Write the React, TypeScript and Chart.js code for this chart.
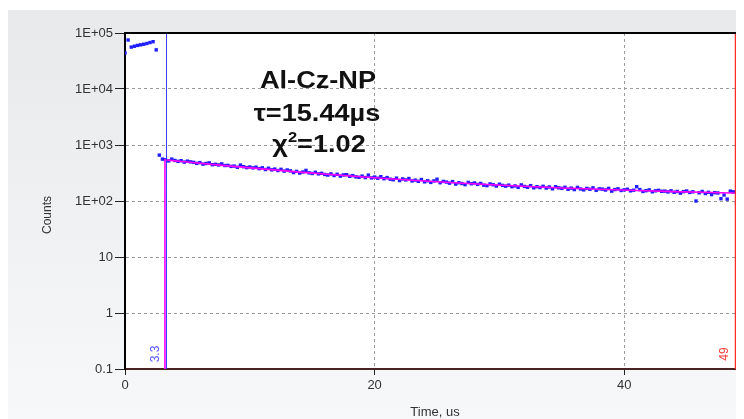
import React, { useEffect, useRef } from 'react';
import { Chart, registerables } from 'chart.js';

Chart.register(...registerables);

// ---- data ----
const TIME_STEP = 0.25; // µs between channels, first channel at t = 0
// counts per channel: pre-pulse (t = 0 .. 3.0), then decay from t = 3.25 onward
const counts = [
  44000, 75000, 56000, 58000, 60000, 61500, 63000, 65000, 67500, 70000, 50000, 660, 560,
  545, 520, 560, 530, 510, 525, 495, 515, 500, 490,
  470, 485, 455, 468, 480, 445, 452, 440, 460, 430,
  432, 415, 420, 400, 438, 410, 395, 405, 390, 402,
  378, 392, 365, 385, 360, 372, 350, 368, 342, 358,
  345, 322, 338, 315, 330, 352, 318, 310, 326, 305,
  312, 298, 290, 305, 285, 300, 278, 292, 295, 276,
  284, 270, 265, 278, 262, 290, 258, 268, 255, 272,
  250, 262, 245, 240, 256, 232, 248, 238, 252, 228,
  236, 225, 242, 220, 230, 215, 228, 245, 212, 224,
  218, 208, 222, 200, 212, 205, 196, 215, 203, 210,
  198, 206, 192, 188, 202, 195, 185, 200, 190, 184,
  192, 180, 186, 175, 194, 182, 176, 188, 172, 180,
  174, 183, 170, 178, 165, 180, 172, 168, 176, 162,
  170, 160, 175, 164, 158, 168, 162, 172, 155, 165,
  163, 157, 168, 150, 160, 165, 154, 158, 162, 152,
  156, 180, 160, 148, 153, 158, 146, 152, 155, 149,
  150, 145, 152, 143, 148, 138, 147, 151, 142, 146,
  100, 140, 148, 136, 143, 130, 141, 139, 110, 128,
  108, 150, 146, 92,
  112, 125,
];

// fitted curve (magenta)
const fitTimes = [3.2, 3.2, 5, 8, 11, 14, 17, 20, 23, 26, 29, 32, 35, 38, 41, 44, 47, 49.28, 49.28];
const fitCounts = [0.1, 540, 496, 429, 374, 328, 291, 260, 235, 214, 197, 183, 171, 162, 154, 147, 142, 138, 0.1];

// range markers
const markerTimes = [3.3, 48.9];
const markerLabels = ['3.3', '49'];
const markerColors = ['#3c3cff', '#ff2a2a'];
const markerTextColors = ['#5a5aff', '#ff3a3a'];

// axes
const xMin = 0;
const xMax = 52;
const xStep = 20;
const yTickValues = [0.1, 1, 10, 100, 1000, 10000, 100000];
const yTickLabels = ['0.1', '1', '10', '1E+02', '1E+03', '1E+04', '1E+05'];
const xTitle = 'Time, us';
const yTitle = 'Counts';
const sampleName = 'Al-Cz-NP';
const lifetimeText = 'τ=15.44µs';
const chiSymbol = 'χ';
const chiSup = '2';
const chiValue = '=1.02';

const FONT = '"Liberation Sans", Arial, Helvetica, sans-serif';

export default function App() {
  const ref = useRef<HTMLCanvasElement | null>(null);

  useEffect(() => {
    document.documentElement.style.overflow = 'hidden';
    document.body.style.overflow = 'hidden';
    const canvas = ref.current;
    if (!canvas) return;

    const points = counts.map((c, i) => ({ x: i * TIME_STEP, y: c }));
    const fit = fitTimes.map((t, i) => ({ x: t, y: fitCounts[i] }));

    const plugin = {
      id: 'decorations',
      beforeDraw(chart: any) {
        const { ctx, chartArea: a } = chart;
        ctx.save();
        ctx.fillStyle = '#ffffff';
        ctx.fillRect(a.left, a.top, a.right - a.left, a.bottom - a.top);
        ctx.restore();
      },
      afterDatasetsDraw(chart: any) {
        const { ctx, chartArea: a, scales } = chart;
        const xs = scales.x;
        ctx.save();
        // marker lines + labels
        markerTimes.forEach((t, i) => {
          const px = Math.round(xs.getPixelForValue(t)) + 0.5;
          ctx.strokeStyle = markerColors[i];
          ctx.lineWidth = i === 0 ? 1 : 1.5;
          ctx.beginPath();
          ctx.moveTo(px, a.top);
          ctx.lineTo(px, a.bottom);
          ctx.stroke();
          ctx.save();
          ctx.translate(px - 11, a.bottom - 15);
          ctx.rotate(-Math.PI / 2);
          ctx.fillStyle = markerTextColors[i];
          ctx.font = `12px ${FONT}`;
          ctx.textAlign = 'center';
          ctx.textBaseline = 'middle';
          ctx.fillText(markerLabels[i], 0, 0);
          ctx.restore();
        });
        // top border
        ctx.strokeStyle = '#000';
        ctx.lineWidth = 2;
        ctx.beginPath();
        ctx.moveTo(a.left - 1, a.top);
        ctx.lineTo(a.right, a.top);
        ctx.stroke();
        // annotation
        ctx.fillStyle = '#111';
        ctx.textBaseline = 'alphabetic';
        const big = `bold 23px ${FONT}`;
        const small = `bold 14px ${FONT}`;
        const sx = 1.18;
        const drawCentered = (s: string, cx: number, y: number) => {
          ctx.save();
          ctx.translate(cx, y);
          ctx.scale(sx, 1);
          ctx.font = big;
          ctx.textAlign = 'center';
          ctx.fillText(s, 0, 0);
          ctx.restore();
        };
        drawCentered(sampleName, 310, 78);
        drawCentered(lifetimeText, 309, 111);
        // chi-square line with superscript
        ctx.save();
        ctx.font = big;
        const w1 = ctx.measureText(chiSymbol).width;
        const w3 = ctx.measureText(chiValue).width;
        ctx.font = small;
        const w2 = ctx.measureText(chiSup).width;
        const total = w1 + w2 + w3;
        ctx.translate(311, 142);
        ctx.scale(sx, 1);
        ctx.textAlign = 'left';
        let x0 = -total / 2;
        ctx.font = big;
        ctx.fillText(chiSymbol, x0, 0);
        x0 += w1;
        ctx.font = small;
        ctx.fillText(chiSup, x0, -10);
        x0 += w2;
        ctx.font = big;
        ctx.fillText(chiValue, x0, 0);
        ctx.restore();
        ctx.restore();
      },
      afterDraw(chart: any) {
        const { ctx } = chart;
        ctx.save();
        ctx.fillStyle = '#333';
        ctx.font = `13px ${FONT}`;
        ctx.textAlign = 'center';
        ctx.textBaseline = 'alphabetic';
        ctx.fillText(xTitle, 427, 406);
        ctx.translate(40, 205);
        ctx.rotate(-Math.PI / 2);
        ctx.font = `12px ${FONT}`;
        ctx.textBaseline = 'middle';
        ctx.fillText(yTitle, 0, 0);
        ctx.restore();
      },
    };

    const chart = new Chart(canvas, {
      type: 'scatter',
      data: {
        datasets: [
          {
            type: 'line',
            data: fit,
            borderColor: '#ff00ff',
            borderWidth: 1.6,
            pointRadius: 0,
            tension: 0,
            fill: false,
            order: 0,
          } as any,
          {
            type: 'scatter',
            data: points,
            backgroundColor: 'rgb(30,30,255)',
            borderWidth: 0,
            pointStyle: 'rect',
            pointRadius: 2.4,
            order: 1,
          } as any,
        ],
      },
      options: {
        animation: false,
        responsive: false,
        events: [],
        layout: { padding: { left: 0, top: 23, right: 24, bottom: 0 } },
        plugins: { legend: { display: false }, tooltip: { enabled: false } },
        scales: {
          x: {
            type: 'linear',
            min: xMin,
            max: xMax,
            afterFit(scale: any) {
              scale.height = 50;
            },
            ticks: {
              stepSize: xStep,
              includeBounds: false,
              padding: 3,
              color: '#333',
              font: { family: FONT, size: 13 },
              maxRotation: 0,
            },
            grid: {
              color: '#9a9a9a',
              lineWidth: 1,
              tickLength: 6,
              tickColor: '#222',
              tickWidth: 1,
              tickBorderDash: [],
            },
            border: { color: '#4a2424', width: 2, dash: [3, 3] },
          },
          y: {
            type: 'logarithmic',
            min: 0.1,
            max: 100000,
            afterFit(scale: any) {
              scale.width = 117;
            },
            afterBuildTicks(scale: any) {
              scale.ticks = yTickValues.map((v) => ({ value: v }));
            },
            ticks: {
              padding: 2,
              color: '#333',
              font: { family: FONT, size: 13 },
              callback: (_v: any, i: number) => yTickLabels[i],
            },
            grid: {
              color: '#9a9a9a',
              lineWidth: 1,
              tickLength: 10,
              tickColor: '#222',
              tickWidth: 1,
              tickBorderDash: [],
            },
            border: { color: '#000', width: 2, dash: [3, 3] },
          },
        },
      },
      plugins: [plugin],
    } as any);

    return () => chart.destroy();
  }, []);

  return (
    <div
      style={{
        marginTop: 2,
        width: 736,
        height: 409,
        overflow: 'hidden',
        background: 'linear-gradient(#e8e9eb, #f7f8fa)',
      }}
    >
      <canvas ref={ref} width={790} height={409} style={{ display: 'block' }} />
    </div>
  );
}
